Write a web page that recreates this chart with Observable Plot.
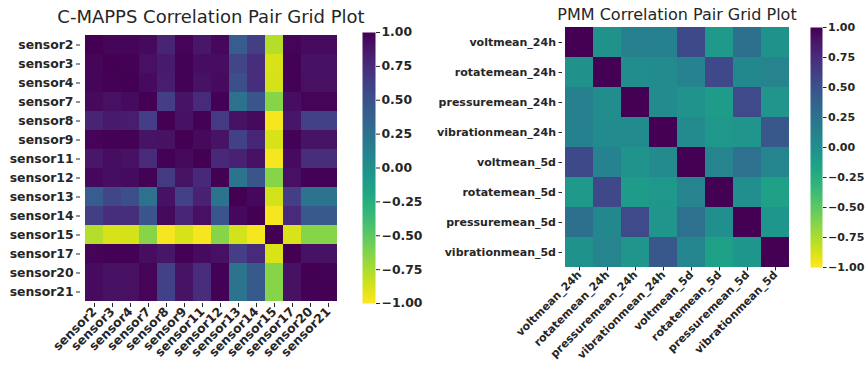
<!DOCTYPE html>
<html>
<head>
<meta charset="utf-8">
<script src="https://cdn.jsdelivr.net/npm/d3@7"></script>
<script src="https://cdn.jsdelivr.net/npm/@observablehq/plot@0.6"></script>
<style>
  html, body { margin: 0; padding: 0; background: #fff; }
  #wrap { position: relative; width: 865px; height: 365px; overflow: hidden; font-family: "DejaVu Sans", sans-serif; }
  #wrap svg { position: absolute; top: 0; overflow: visible; }
  .title { position: absolute; font-family: "DejaVu Sans", sans-serif; color: #262626; white-space: nowrap; transform: translateX(-50%); }
</style>
</head>
<body>
<div id="wrap"></div>
<script>
const sensors = ["sensor2","sensor3","sensor4","sensor7","sensor8","sensor9","sensor11","sensor12","sensor13","sensor14","sensor15","sensor17","sensor20","sensor21"];
const sensorCorr = [
  [ 1.00, 0.97, 0.97, 0.95, 0.80, 0.98, 0.88, 0.96, 0.42, 0.63,-0.78, 0.98, 0.94, 0.94],
  [ 0.97, 1.00, 0.99, 0.92, 0.86, 0.99, 0.93, 0.93, 0.58, 0.75,-0.88, 0.99, 0.91, 0.91],
  [ 0.97, 0.99, 1.00, 0.94, 0.84, 0.99, 0.91, 0.94, 0.52, 0.74,-0.87, 0.99, 0.92, 0.92],
  [ 0.95, 0.92, 0.94, 1.00, 0.64, 0.90, 0.76, 0.99, 0.26, 0.47,-0.64, 0.93, 0.98, 0.98],
  [ 0.80, 0.86, 0.84, 0.64, 1.00, 0.91, 0.99, 0.67, 0.91, 0.95,-0.97, 0.89, 0.62, 0.62],
  [ 0.98, 0.99, 0.99, 0.90, 0.91, 1.00, 0.95, 0.90, 0.62, 0.79,-0.88, 0.99, 0.90, 0.90],
  [ 0.88, 0.93, 0.91, 0.76, 0.99, 0.95, 1.00, 0.78, 0.82, 0.92,-0.97, 0.94, 0.75, 0.75],
  [ 0.96, 0.93, 0.94, 0.99, 0.67, 0.90, 0.78, 1.00, 0.24, 0.48,-0.64, 0.92, 0.99, 0.99],
  [ 0.42, 0.58, 0.52, 0.26, 0.91, 0.62, 0.82, 0.24, 1.00, 0.96,-0.86, 0.64, 0.24, 0.24],
  [ 0.63, 0.75, 0.74, 0.47, 0.95, 0.79, 0.92, 0.48, 0.96, 1.00,-0.97, 0.76, 0.45, 0.45],
  [-0.78,-0.88,-0.87,-0.64,-0.97,-0.88,-0.97,-0.64,-0.86,-0.97, 1.00,-0.89,-0.64,-0.64],
  [ 0.98, 0.99, 0.99, 0.93, 0.89, 0.99, 0.94, 0.92, 0.64, 0.76,-0.89, 1.00, 0.91, 0.91],
  [ 0.94, 0.91, 0.92, 0.98, 0.62, 0.90, 0.75, 0.99, 0.24, 0.45,-0.64, 0.91, 1.00, 0.99],
  [ 0.94, 0.91, 0.92, 0.98, 0.62, 0.90, 0.75, 0.99, 0.24, 0.45,-0.64, 0.91, 0.99, 1.00]
];
const pmmVars = ["voltmean_24h","rotatemean_24h","pressuremean_24h","vibrationmean_24h","voltmean_5d","rotatemean_5d","pressuremean_5d","vibrationmean_5d"];
const pmmCorr = [
  [ 1.00, 0.00, 0.14, 0.13, 0.56,-0.08, 0.27,-0.01],
  [ 0.00, 1.00, 0.03, 0.04, 0.12, 0.57, 0.07, 0.10],
  [ 0.14, 0.03, 1.00, 0.04,-0.03,-0.10, 0.55,-0.04],
  [ 0.13, 0.04, 0.04, 1.00, 0.05,-0.06,-0.04, 0.46],
  [ 0.56, 0.12,-0.03, 0.05, 1.00, 0.10, 0.26, 0.09],
  [-0.08, 0.57,-0.10,-0.06, 0.10, 1.00, 0.01,-0.14],
  [ 0.27, 0.07, 0.55,-0.04, 0.26, 0.01, 1.00,-0.05],
  [-0.01, 0.10,-0.04, 0.46, 0.09,-0.14,-0.05, 1.00]
];
const cbarTicks = [1, 0.75, 0.5, 0.25, 0, -0.25, -0.5, -0.75, -1];
const titles = ["C-MAPPS Correlation Pair Grid Plot", "PMM Correlation Pair Grid Plot"];

const wrap = document.getElementById("wrap");
const colorOpt = {type: "linear", scheme: "viridis", reverse: true, domain: [-1, 1]};
const textStyle = (fs) => ({fontFamily: "DejaVu Sans, sans-serif", fontSize: fs + "px", fontWeight: "bold", color: "#262626", background: "transparent"});

function heat(names, matrix, left, L, T, W, H, fs, tick) {
  const data = [];
  names.forEach((r, i) => names.forEach((c, j) => data.push({row: r, col: c, v: matrix[i][j]})));
  const svg = Plot.plot({
    width: L + W + 6, height: 365,
    marginLeft: L, marginRight: 6, marginTop: T, marginBottom: 365 - T - H,
    style: textStyle(fs),
    x: {domain: names, padding: 0, label: null},
    y: {domain: names, padding: 0, label: null},
    color: colorOpt,
    marks: [
      Plot.cell(data, {x: "col", y: "row", fill: "v", inset: 0}),
      Plot.axisX({tickRotate: -45, tickSize: tick, tickPadding: 2, label: null}),
      Plot.axisY({tickSize: tick, tickPadding: 3, label: null})
    ]
  });
  svg.style.left = left + "px";
  wrap.appendChild(svg);
}

function cbar(left, T, W, H, fs, tick) {
  const svg = Plot.plot({
    width: W + 52, height: 365,
    marginLeft: 0, marginRight: 52, marginTop: T, marginBottom: 365 - T - H,
    style: textStyle(fs),
    x: {domain: [0, 1], axis: null},
    y: {domain: [-1, 1], label: null},
    color: colorOpt,
    marks: [
      Plot.raster({x1: 0, x2: 1, y1: -1, y2: 1, fill: (x, y) => y, width: 1, height: 300}),
      Plot.axisY({anchor: "right", ticks: cbarTicks, tickFormat: d3.format(".2f"), tickSize: tick, tickPadding: 2, label: null})
    ]
  });
  svg.style.left = left + "px";
  wrap.appendChild(svg);
}

function title(text, cx, top, size) {
  const d = document.createElement("div");
  d.className = "title";
  d.textContent = text;
  d.style.left = cx + "px";
  d.style.top = top + "px";
  d.style.fontSize = size + "px";
  wrap.appendChild(d);
}

heat(sensors, sensorCorr, 0, 80, 32, 262, 271, 12.4, 4);
cbar(362, 32, 13, 271, 12.4, 4);
heat(pmmVars, pmmCorr, 430, 132, 27, 230, 240, 11, 3.5);
cbar(810, 27, 12, 240, 11, 3.5);
title(titles[0], 211, 6, 18);
title(titles[1], 677, 5, 16);
</script>
</body>
</html>
